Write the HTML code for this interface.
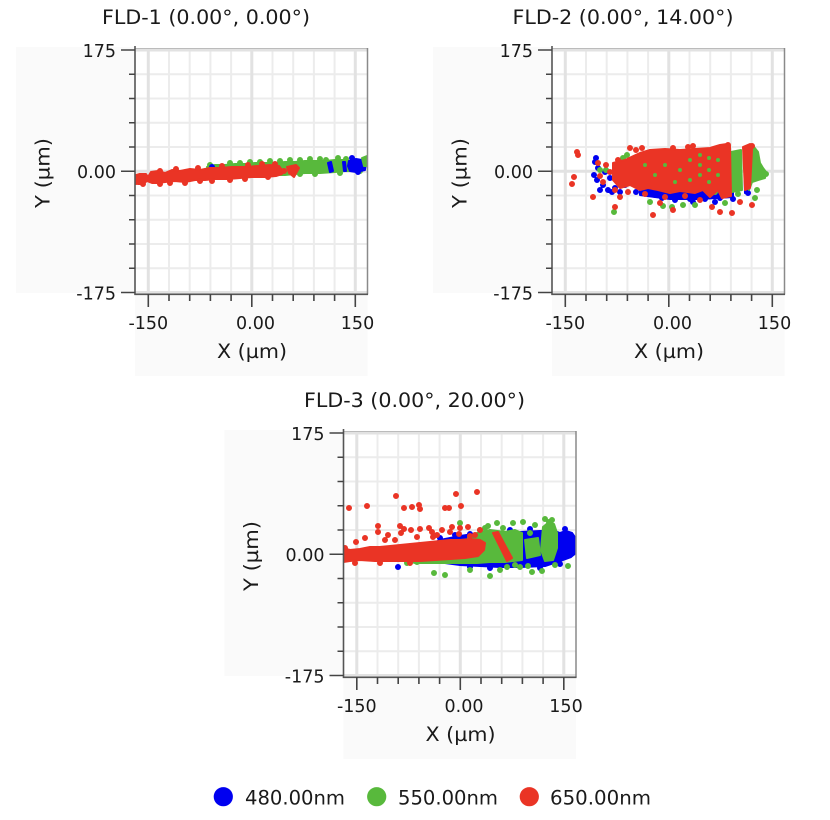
<!DOCTYPE html>
<html><head><meta charset="utf-8">
<style>
html,body{margin:0;padding:0;background:#fff;}
svg{display:block;}
text{font-family:"DejaVu Sans","Liberation Sans",sans-serif;fill:#1a1a1a;}
</style></head><body>
<svg width="830" height="820" viewBox="0 0 830 820" xmlns="http://www.w3.org/2000/svg">
<defs>
<clipPath id="c1"><rect x="135" y="48" width="232.5" height="246"/></clipPath>
<clipPath id="c2"><rect x="552" y="48" width="232.5" height="246"/></clipPath>
<clipPath id="c3"><rect x="343.5" y="431" width="232.5" height="246"/></clipPath>
</defs>

<!-- ================= CHART 1 background + grid ================= -->
<g transform="translate(0,0)">
<rect x="16" y="47" width="119" height="246" fill="#fafafa"/>
<rect x="135" y="294" width="232.5" height="82" fill="#fafafa"/>
<rect x="135" y="48" width="232.5" height="246" fill="#fff"/>
<path d="M169 48V294M189.7 48V294M210.4 48V294M231.1 48V294M272.5 48V294M293.2 48V294M313.9 48V294M334.6 48V294M135 74.25H367M135 98.5H367M135 122.75H367M135 147H367M135 195.5H367M135 219.75H367M135 244H367M135 268.25H367" stroke="#ececec" stroke-width="2" fill="none"/>
<path d="M148.3 48V294M251.8 48V294M355.3 48V294M135 50H367M135 171.25H367M135 292.5H367" stroke="#e2e2e2" stroke-width="3" fill="none"/>
</g>

<!-- ================= CHART 2 background + grid ================= -->
<g transform="translate(417,0)">
<rect x="16" y="47" width="119" height="246" fill="#fafafa"/>
<rect x="135" y="294" width="232.5" height="82" fill="#fafafa"/>
<rect x="135" y="48" width="232.5" height="246" fill="#fff"/>
<path d="M169 48V294M189.7 48V294M210.4 48V294M231.1 48V294M272.5 48V294M293.2 48V294M313.9 48V294M334.6 48V294M135 74.25H367M135 98.5H367M135 122.75H367M135 147H367M135 195.5H367M135 219.75H367M135 244H367M135 268.25H367" stroke="#ececec" stroke-width="2" fill="none"/>
<path d="M148.3 48V294M251.8 48V294M355.3 48V294M135 50H367M135 171.25H367M135 292.5H367" stroke="#e2e2e2" stroke-width="3" fill="none"/>
</g>

<!-- ================= CHART 3 background + grid ================= -->
<g transform="translate(208.5,383)">
<rect x="16" y="47" width="119" height="246" fill="#fafafa"/>
<rect x="135" y="294" width="232.5" height="82" fill="#fafafa"/>
<rect x="135" y="48" width="232.5" height="246" fill="#fff"/>
<path d="M169 48V294M189.7 48V294M210.4 48V294M231.1 48V294M272.5 48V294M293.2 48V294M313.9 48V294M334.6 48V294M135 74.25H367M135 98.5H367M135 122.75H367M135 147H367M135 195.5H367M135 219.75H367M135 244H367M135 268.25H367" stroke="#ececec" stroke-width="2" fill="none"/>
<path d="M148.3 48V294M251.8 48V294M355.3 48V294M135 50H367M135 171.25H367M135 292.5H367" stroke="#e2e2e2" stroke-width="3" fill="none"/>
</g>

<!-- ================= CHART 1 scatter ================= -->
<g clip-path="url(#c1)" stroke-linejoin="round" stroke-linecap="round">
  <polygon points="207,167 215,165 225,165 235,164 245,164 255,163 265,163 275,163 285,162 295,162 305,161 315,161 325,161 335,160 345,160 349,161 348,166 350,171 345,171 335,172 320,173 305,173 295,174 285,175 270,175 240,176 210,176" fill="#58b93c" stroke="#58b93c" stroke-width="2"/>
  <path d="M210 165h0M230 163h0M250 162h0M270 161h0M300 160h0M320 159h0M338 158h0M290 160h0M280 161h0M315 174h0M340 173h0M360 171h0M310 159h0M326 160h0M346 159h0M240 163h0M260 162h0M300 174h0" stroke="#58b93c" stroke-width="6" fill="none"/>
  <g fill="#0000f0" stroke="#0000f0" stroke-width="2">
    <polygon points="349,161 356,159 362,160 366,163 365,170 356,172 350,171 348,166"/>
    <polygon points="328,163 331,162 333,171 330,172"/>
    <polygon points="343,162 345,162 346,171 344,171"/>
  </g>
  <path d="M212 167h0M352 158h0M358 172h0" stroke="#0000f0" stroke-width="6" fill="none"/>
  <polygon points="362,158 367,156 369,158 368,166 364,166" fill="#58b93c" stroke="#58b93c" stroke-width="2"/>
  <g fill="#ea3425" stroke="#ea3425" stroke-width="2">
    <polygon points="136,175 140,174 146,174 148,177 151,172 158,171 165,173 172,170 180,171 190,169 200,170 210,168 220,168 232,167 245,167 258,166 270,165 279,166 282,170 282,174 276,176 265,177 252,177 240,178 228,179 215,179 205,180 195,180 185,182 175,181 165,182 158,183 152,183 147,181 143,184 138,184 136,182"/>
    <polygon points="287,167 296,165 299,168 294,177 289,173"/>
  </g>
  <path d="M136 182h0M140 176h0M160 171h0M176 169h0M198 168h0M222 166h0M248 165h0M262 164h0M275 164h0M185 183h0M212 181h0M160 184h0M230 180h0M284 171h0M143 184h0M170 183h0M200 181h0M245 179h0M268 177h0" stroke="#ea3425" stroke-width="6" fill="none"/>
</g>

<!-- ================= CHART 2 scatter ================= -->
<g clip-path="url(#c2)" stroke-linejoin="round" stroke-linecap="round">
  <polygon points="640,160 733,160 733,197 700,199 670,199 640,195" fill="#0000f0" stroke="#0000f0" stroke-width="2"/>
  <polygon points="744,148 749,147 749,190 745,193" fill="#0000f0" stroke="#0000f0" stroke-width="2"/>
  <path d="M595 162h0M598 168h0M594 175h0M597 180h0M603 185h0M608 190h0M612 192h0M605 172h0M610 178h0M600 190h0M615 188h0M620 192h0M596 158h0M625 185h0M645 188h0M650 192h0M655 195h0M662 198h0M668 196h0M675 200h0M682 197h0M690 199h0M698 197h0M705 199h0M712 196h0M720 198h0M728 195h0M733 199h0M693 202h0M715 202h0M748 193h0M636 192h0" stroke="#0000f0" stroke-width="6" fill="none"/>
  <g fill="#58b93c" stroke="#58b93c" stroke-width="2">
    <polygon points="748,148 754,147 758,152 760,163 763,168 766,172 765,178 758,180 752,182 749,190"/>
    <polygon points="731,152 741,150 742,190 732,192"/>
  </g>
  <path d="M614 212h0M663 206h0M672 207h0M683 205h0M695 205h0M725 203h0M755 198h0M757 190h0M715 192h0M600 170h0M606 170h0M623 158h0M627 155h0M660 155h0M670 153h0M700 153h0M766 174h0M738 194h0M650 202h0" stroke="#58b93c" stroke-width="6" fill="none"/>
  <g fill="#ea3425" stroke="#ea3425" stroke-width="2">
    <polygon points="613,163 625,160 640,153 650,150 665,149 680,150 695,149 710,148 720,145 727,144 730,146 731,196 722,198 718,190 710,197 703,190 695,193 680,191 670,193 658,190 648,188 640,190 630,185 620,188 613,180"/>
    <polygon points="743,147 750,144 752,150 750,188 745,190"/>
  </g>
  <path d="M577 152h0M578 155h0M574 177h0M572 184h0M593 197h0M615 207h0M653 215h0M673 210h0M660 203h0M700 200h0M712 207h0M720 212h0M732 213h0M752 205h0M630 148h0M642 148h0M673 148h0M688 147h0M693 146h0M728 145h0M752 146h0M600 176h0M606 165h0M610 172h0M618 160h0M603 182h0M615 190h0M620 197h0M622 183h0M628 192h0M645 194h0M665 197h0M685 196h0M740 202h0M598 163h0M636 150h0" stroke="#ea3425" stroke-width="6" fill="none"/>
  <path d="M700 155h0M700 165h0M700 175h0M709 158h0M709 170h0M709 182h0M718 160h0M718 175h0M690 160h0M680 170h0M665 165h0M655 175h0M675 182h0M645 165h0M690 180h0" stroke="#58b93c" stroke-width="4" fill="none"/>
</g>

<!-- ================= CHART 3 scatter ================= -->
<g clip-path="url(#c3)" stroke-linejoin="round" stroke-linecap="round">
  <polygon points="427,546 440,540 460,536 480,533 500,532 520,532 540,531 555,531 560,533 566,531 572,533 577,540 577,552 571,557 560,561 545,566 520,567 500,567 480,566 460,565 445,563 430,561 425,556" fill="#0000f0" stroke="#0000f0" stroke-width="2"/>
  <path d="M398 567h0M420 559h0M430 550h0M470 534h0M510 530h0M530 529h0M565 529h0M575 545h0M440 538h0M455 535h0M560 564h0M540 568h0M490 568h0M470 567h0" stroke="#0000f0" stroke-width="6" fill="none"/>
  <g fill="#58b93c" stroke="#58b93c" stroke-width="2">
    <polygon points="477,533 490,530 505,532 515,530 522,533 522,560 505,562 490,562 477,563 460,563 440,563 415,563 402,559 425,556 455,552 470,545"/>
    <polygon points="543,527 549,522 554,524 557,533 557,548 553,560 545,561 541,550"/>
    <polygon points="525,540 538,538 540,555 527,558"/>
  </g>
  <path d="M460 523h0M488 526h0M497 523h0M513 523h0M523 522h0M549 522h0M550 526h0M407 563h0M434 573h0M445 575h0M490 576h0M532 572h0M542 571h0M568 566h0M507 567h0M520 567h0M417 562h0M485 528h0M535 525h0M470 570h0M500 570h0M555 565h0M528 566h0M480 530h0M470 538h0M545 519h0M552 520h0M503 528h0M530 533h0M515 565h0" stroke="#58b93c" stroke-width="6" fill="none"/>
  <g fill="#ea3425" stroke="#ea3425" stroke-width="2">
    <polygon points="343,548 350,550 360,549 370,547 380,547 390,546 400,545 410,544 420,543 430,542 440,541 450,540 460,540 470,539 480,540 485,543 484,550 478,556 465,558 450,559 435,560 420,561 405,561 390,561 375,561 360,560 350,561 343,562"/>
    <polygon points="493,533 498,532 512,558 507,561"/>
  </g>
  <path d="M349 508h0M367 506h0M396 496h0M404 508h0M412 507h0M419 505h0M420 509h0M445 508h0M449 508h0M456 494h0M461 506h0M477 492h0M378 526h0M378 532h0M400 526h0M401 533h0M404 529h0M411 530h0M420 529h0M429 528h0M433 537h0M450 532h0M452 527h0M459 534h0M468 527h0M470 536h0M345 548h0M388 535h0M395 540h0M437 535h0M442 530h0M356 542h0M365 538h0M385 540h0M417 537h0M432 532h0M460 528h0M475 535h0M480 530h0M355 563h0M380 563h0M410 563h0" stroke="#ea3425" stroke-width="6" fill="none"/>
</g>

<!-- ================= CHART 1 axes + text ================= -->
<g transform="translate(0,0)">
<path d="M135 48.5H367" stroke="#bbb" stroke-width="1"/>
<path d="M367.5 48V294.5" stroke="#8a8a8a" stroke-width="1.5"/>
<path d="M135 46V294.3H368" stroke="#555" stroke-width="1.6" fill="none"/>
<path d="M121 50H135M121 171.25H135M121 292.5H135M129 74.25H135M129 98.5H135M129 122.75H135M129 147H135M129 195.5H135M129 219.75H135M129 244H135M129 268.25H135M148.3 294V307M251.8 294V307M355.3 294V307M169 294V301M189.7 294V301M210.4 294V301M231.1 294V301M272.5 294V301M293.2 294V301M313.9 294V301M334.6 294V301" stroke="#444" stroke-width="1.6"/>
<text x="206" y="24" text-anchor="middle" font-size="19.5" textLength="208" lengthAdjust="spacingAndGlyphs">FLD-1 (0.00°, 0.00°)</text>
<text x="116" y="57" text-anchor="end" font-size="17.5">175</text>
<text x="116" y="178" text-anchor="end" font-size="17.5">0.00</text>
<text x="116" y="299.5" text-anchor="end" font-size="17.5">-175</text>
<text x="148.3" y="329" text-anchor="middle" font-size="17.5">-150</text>
<text x="255.5" y="329" text-anchor="middle" font-size="17.5">0.00</text>
<text x="357.5" y="329" text-anchor="middle" font-size="17.5">150</text>
<text x="252" y="358" text-anchor="middle" font-size="19.5" textLength="70" lengthAdjust="spacingAndGlyphs">X (µm)</text>
<text transform="translate(49.5,173) rotate(-90)" text-anchor="middle" font-size="19.5" textLength="70" lengthAdjust="spacingAndGlyphs">Y (µm)</text>
</g>

<!-- ================= CHART 2 axes + text ================= -->
<g transform="translate(417,0)">
<path d="M135 48.5H367" stroke="#bbb" stroke-width="1"/>
<path d="M367.5 48V294.5" stroke="#8a8a8a" stroke-width="1.5"/>
<path d="M135 46V294.3H368" stroke="#555" stroke-width="1.6" fill="none"/>
<path d="M121 50H135M121 171.25H135M121 292.5H135M129 74.25H135M129 98.5H135M129 122.75H135M129 147H135M129 195.5H135M129 219.75H135M129 244H135M129 268.25H135M148.3 294V307M251.8 294V307M355.3 294V307M169 294V301M189.7 294V301M210.4 294V301M231.1 294V301M272.5 294V301M293.2 294V301M313.9 294V301M334.6 294V301" stroke="#444" stroke-width="1.6"/>
<text x="206" y="24" text-anchor="middle" font-size="19.5" textLength="221" lengthAdjust="spacingAndGlyphs">FLD-2 (0.00°, 14.00°)</text>
<text x="116" y="57" text-anchor="end" font-size="17.5">175</text>
<text x="116" y="178" text-anchor="end" font-size="17.5">0.00</text>
<text x="116" y="299.5" text-anchor="end" font-size="17.5">-175</text>
<text x="148.3" y="329" text-anchor="middle" font-size="17.5">-150</text>
<text x="255.5" y="329" text-anchor="middle" font-size="17.5">0.00</text>
<text x="357.5" y="329" text-anchor="middle" font-size="17.5">150</text>
<text x="252" y="358" text-anchor="middle" font-size="19.5" textLength="70" lengthAdjust="spacingAndGlyphs">X (µm)</text>
<text transform="translate(49.5,173) rotate(-90)" text-anchor="middle" font-size="19.5" textLength="70" lengthAdjust="spacingAndGlyphs">Y (µm)</text>
</g>

<!-- ================= CHART 3 axes + text ================= -->
<g transform="translate(208.5,383)">
<path d="M135 48.5H367" stroke="#bbb" stroke-width="1"/>
<path d="M367.5 48V294.5" stroke="#8a8a8a" stroke-width="1.5"/>
<path d="M135 46V294.3H368" stroke="#555" stroke-width="1.6" fill="none"/>
<path d="M121 50H135M121 171.25H135M121 292.5H135M129 74.25H135M129 98.5H135M129 122.75H135M129 147H135M129 195.5H135M129 219.75H135M129 244H135M129 268.25H135M148.3 294V307M251.8 294V307M355.3 294V307M169 294V301M189.7 294V301M210.4 294V301M231.1 294V301M272.5 294V301M293.2 294V301M313.9 294V301M334.6 294V301" stroke="#444" stroke-width="1.6"/>
<text x="206" y="24" text-anchor="middle" font-size="19.5" textLength="221" lengthAdjust="spacingAndGlyphs">FLD-3 (0.00°, 20.00°)</text>
<text x="116" y="57" text-anchor="end" font-size="17.5">175</text>
<text x="116" y="178" text-anchor="end" font-size="17.5">0.00</text>
<text x="116" y="299.5" text-anchor="end" font-size="17.5">-175</text>
<text x="148.3" y="329" text-anchor="middle" font-size="17.5">-150</text>
<text x="255.5" y="329" text-anchor="middle" font-size="17.5">0.00</text>
<text x="357.5" y="329" text-anchor="middle" font-size="17.5">150</text>
<text x="252" y="358" text-anchor="middle" font-size="19.5" textLength="70" lengthAdjust="spacingAndGlyphs">X (µm)</text>
<text transform="translate(49.5,173) rotate(-90)" text-anchor="middle" font-size="19.5" textLength="70" lengthAdjust="spacingAndGlyphs">Y (µm)</text>
</g>

<!-- ================= LEGEND ================= -->
<circle cx="223.3" cy="796.7" r="9.6" fill="#0000f0"/>
<text x="245" y="804.3" font-size="19.5" textLength="100" lengthAdjust="spacingAndGlyphs">480.00nm</text>
<circle cx="376.7" cy="796.7" r="9.6" fill="#58b93c"/>
<text x="398" y="804.3" font-size="19.5" textLength="100" lengthAdjust="spacingAndGlyphs">550.00nm</text>
<circle cx="529.3" cy="796.7" r="9.6" fill="#ea3425"/>
<text x="550" y="804.3" font-size="19.5" textLength="101" lengthAdjust="spacingAndGlyphs">650.00nm</text>
</svg>
</body></html>
